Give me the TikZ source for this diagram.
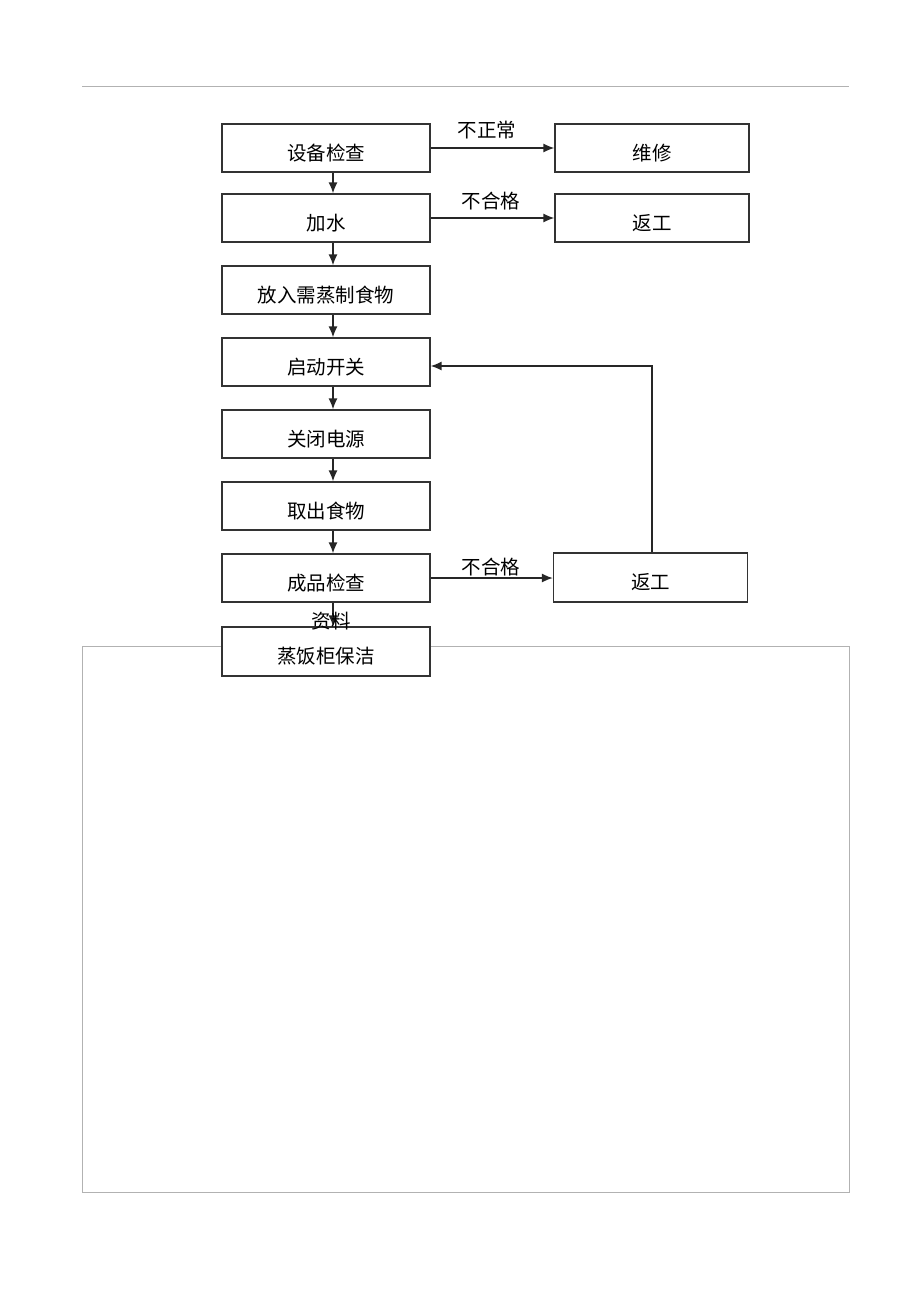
\documentclass[tikz,border=0pt]{standalone}
\usepackage{fontspec}
\setmainfont{Noto Sans CJK SC}
\usetikzlibrary{arrows.meta}

\begin{document}
\begin{tikzpicture}[x=1pt,y=-1pt,
        proc/.style={rectangle,draw=black!80,fill=white,line width=1.2pt,
          inner sep=0pt,minimum width=208pt,minimum height=48pt,
          text height=26pt,text depth=2pt,font=\fontsize{19.5}{22}\selectfont},
        side/.style={proc,minimum width=194pt},
        cond/.style={font=\fontsize{19.5}{22}\selectfont},
        flow/.style={-{Latex[length=11pt,width=9pt]},line width=1.5pt,black!85},
        frame/.style={draw=black!30,line width=0.6pt}]
      \useasboundingbox (0,0) rectangle (920,1303);
      \draw[frame] (82,86) -- (849,86);
      \draw[frame] (82,646) rectangle (849,1192);
      \node (check) at (326,148) [proc] {设备检查};
      \node (water) at (326,218) [proc] {加水};
      \node (food) at (326,290) [proc] {放入需蒸制食物};
      \node (start) at (326,362) [proc] {启动开关};
      \node (off) at (326,434) [proc] {关闭电源};
      \node (take) at (326,506) [proc] {取出食物};
      \node (qc) at (326,578) [proc] {成品检查};
      \node (clean) at (326,651.5) [proc,minimum height=49pt] {蒸饭柜保洁};
      \node (repair) at (652,148) [side] {维修};
      \node (redo1) at (652,218) [side] {返工};
      \node (redo2) at (650.5,577.5) [side,minimum height=49pt] {返工};
      \draw[flow] ([xshift=7pt]check.south) -- ([xshift=7pt]water.north);
      \draw[flow] ([xshift=7pt]water.south) -- ([xshift=7pt]food.north);
      \draw[flow] ([xshift=7pt]food.south) -- ([xshift=7pt]start.north);
      \draw[flow] ([xshift=7pt]start.south) -- ([xshift=7pt]off.north);
      \draw[flow] ([xshift=7pt]off.south) -- ([xshift=7pt]take.north);
      \draw[flow] ([xshift=7pt]take.south) -- ([xshift=7pt]qc.north);
      \draw[flow] ([xshift=7pt]qc.south) -- ([xshift=7pt]clean.north);
      \draw[flow] (check) -- (repair);
      \draw[flow] (water) -- (redo1);
      \draw[flow] (qc.east) -- (qc.east -| redo2.west);
      \draw[flow] ([xshift=1.5pt]redo2.north) |- ([yshift=-4pt]start.east);
      \node (abnormal) at (487,130) [cond] {不正常};
      \node (reject1) at (491,201) [cond] {不合格};
      \node (reject2) at (491,567) [cond] {不合格};
      \node (docs) at (331,621) [cond] {资料};
\end{tikzpicture}
\end{document}
